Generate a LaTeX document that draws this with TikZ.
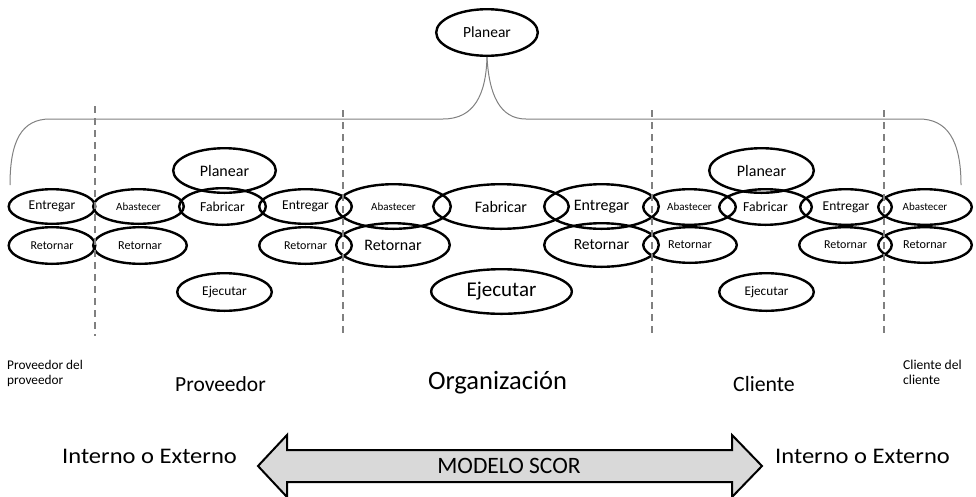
\documentclass[tikz,border=0pt]{standalone}
\usepackage{fontspec}
\setmainfont{Carlito}
\newfontfamily\widefont{Carlito}[FakeStretch=1.1]
\usetikzlibrary{shapes.geometric}
\definecolor{linegray}{HTML}{808080}
\definecolor{arrowfill}{HTML}{D9D9D9}
\begin{document}
\begin{tikzpicture}[
    x=1pt, y=-1pt,
    every node/.style={align=center, inner sep=0pt},
    fs/.style={font=\fontsize{#1}{#1}\selectfont},
    proc/.style 2 args={draw, ellipse, line width=2.4pt, minimum width=#1pt, minimum height=#2pt},
    divider/.style={draw=linegray, line width=1.4pt, dash pattern=on 7pt off 5pt},
    brace line/.style={draw=linegray, line width=1pt},
    scor arrow/.style={draw, line width=2pt, fill=arrowfill, line join=miter},
    ]
\useasboundingbox (0,0) rectangle (976,496);
\node[proc={101.6}{46.6}, fs=15.5] (planTop) at (487,32.5) {Planear};
\node[proc={86.6}{34.6}, fs=13.5] (ppEnt) at (52,206.5) {Entregar};
\node[proc={86.6}{36.6}, fs=12] (ppRet) at (52,245.5) {Retornar};
\node[proc={90.6}{34.6}, fs=11] (prAba) at (138.5,206.5) {Abastecer};
\node[proc={93.6}{36.6}, fs=12.2] (prRetA) at (140,245.5) {Retornar};
\node[proc={102.6}{44.6}, fs=16] (prPlan) at (224.5,170.5) {Planear};
\node[proc={86.6}{36.6}, fs=13.7] (prFab) at (222.5,206.5) {Fabricar};
\node[proc={92.6}{34.6}, fs=13.5] (prEnt) at (305.5,206.5) {Entregar};
\node[proc={92.6}{36.6}, fs=12] (prRetE) at (305.5,245.5) {Retornar};
\node[proc={94.6}{37.6}, fs=13.4] (prEje) at (224.5,292) {Ejecutar};
\node[proc={114.6}{44.6}, fs=11] (orAba) at (393.5,206.5) {Abastecer};
\node[proc={135.6}{44.6}, fs=16] (orFab) at (501,206.5) {Fabricar};
\node[proc={114.6}{44.6}, fs=16] (orEnt) at (601.5,206.5) {Entregar};
\node[proc={113.6}{43.6}, fs=16] (orRetA) at (393,245) {Retornar};
\node[proc={114.6}{43.6}, fs=15.5] (orRetE) at (601.5,245) {Retornar};
\node[proc={140.6}{44.6}, fs=21] (orEje) at (501.5,291.5) {Ejecutar};
\node[proc={92.6}{35.6}, fs=11] (clAba) at (689.5,207) {Abastecer};
\node[proc={93.6}{35.6}, fs=12.2] (clRetA) at (690,245) {Retornar};
\node[proc={104.6}{44.6}, fs=16] (clPlan) at (761.5,170.5) {Planear};
\node[proc={92.6}{35.6}, fs=13.7] (clFab) at (765.5,207) {Fabricar};
\node[proc={91.6}{35.6}, fs=13.5] (clEnt) at (846,207) {Entregar};
\node[proc={92.6}{35.6}, fs=12] (clRetE) at (845.5,245) {Retornar};
\node[proc={94.6}{37.6}, fs=13.2] (clEje) at (766.5,292) {Ejecutar};
\node[proc={93.6}{35.6}, fs=11] (ccAba) at (925,207) {Abastecer};
\node[proc={93.6}{35.6}, fs=12.2] (ccRet) at (925,245) {Retornar};
\coordinate (braceL) at (10,185);
\coordinate (braceR) at (961,185);
\draw[brace line] (braceL) .. controls (10,140) and (22,119) .. (50,119) -- (443,119)
    .. controls (474,119) and (486,95) .. (planTop.south);
\draw[brace line] (planTop.south) .. controls (489,95) and (500,119) .. (526,119) -- (919,119)
    .. controls (947,119) and (961,140) .. (braceR);
\draw[divider] (95,106) -- (95,336);
\draw[divider] (343,110) -- (343,336);
\draw[divider] (652,110) -- (652,336);
\draw[divider] (884,110) -- (884,336);
\node[align=left, anchor=base west, font=\fontsize{13.3}{15}\selectfont] (provProv) at (7,384) {Proveedor del\\proveedor};
\node[fs=21.5, anchor=base] (prov) at (220.5,391) {Proveedor};
\node[fs=26.5, anchor=base] (org) at (497.5,389) {Organización};
\node[fs=21.8, anchor=base] (cli) at (764,391) {Cliente};
\node[align=left, anchor=base west, font=\fontsize{13.6}{15}\selectfont] (cliCli) at (903,384) {Cliente del\\cliente};
\draw[scor arrow] (258,466) -- (287,435) -- (287,450) -- (732,450) -- (732,435) -- (762,466)
    -- (732,497) -- (732,482) -- (287,482) -- (287,497) -- cycle;
\node[fs=23.5] (scor) at (509,466) {MODELO SCOR};
\node[anchor=base west, font=\widefont\fontsize{22.3}{22.3}\selectfont] (intL) at (62,463) {Interno o Externo};
\node[anchor=base west, font=\widefont\fontsize{22.3}{22.3}\selectfont] (intR) at (775,463) {Interno o Externo};
\end{tikzpicture}
\end{document}
